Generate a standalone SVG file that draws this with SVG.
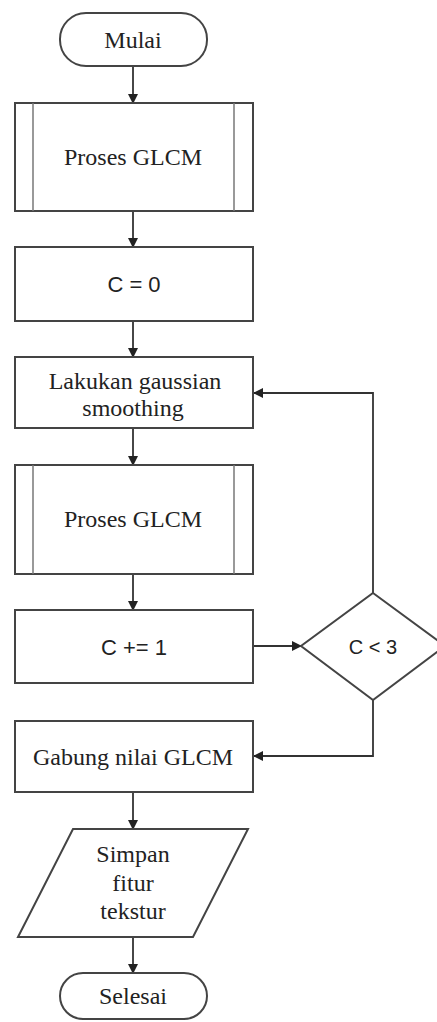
<svg xmlns="http://www.w3.org/2000/svg" width="437" height="1022" viewBox="0 0 437 1022">
<defs>
<marker id="ah" markerWidth="10" markerHeight="10" refX="9" refY="5" orient="auto" markerUnits="userSpaceOnUse">
<path d="M0,0 L10,5 L0,10 Z" fill="#222"/>
</marker>
<style>
.shape{fill:#fff;stroke:#444;stroke-width:2}
.inner{stroke:#777;stroke-width:1.5;fill:none}
.serif{font-family:"Liberation Serif","Times New Roman",serif;font-size:24px;fill:#222;text-anchor:middle}
.sans{font-family:"Liberation Sans",Arial,sans-serif;font-size:22px;fill:#222;text-anchor:middle}
.conn{fill:none;stroke:#333;stroke-width:1.8;marker-end:url(#ah)}
</style>
</defs>
<rect width="437" height="1022" fill="#fff"/>
<g id="connectors">
<path class="conn" d="M133,66 V103"/>
<path class="conn" d="M133,211 V247"/>
<path class="conn" d="M133,321 V357"/>
<path class="conn" d="M133,428 V465"/>
<path class="conn" d="M133,574 V610"/>
<path class="conn" d="M253,646 H301"/>
<path class="conn" d="M373,593 V393 H254"/>
<path class="conn" d="M373,700 V756 H254"/>
<path class="conn" d="M133,792 V829"/>
<path class="conn" d="M133,937 V973"/>
</g>
<g id="mulai">
<rect class="shape" x="60" y="13" width="147" height="53" rx="26" ry="26"/>
<text class="serif" x="133" y="48">Mulai</text>
</g>
<g id="proses1">
<rect class="shape" x="15" y="103" width="238" height="108"/>
<line class="inner" x1="33" y1="103" x2="33" y2="211"/>
<line class="inner" x1="234" y1="103" x2="234" y2="211"/>
<text class="serif" x="133" y="165">Proses GLCM</text>
</g>
<g id="c0">
<rect class="shape" x="15" y="247" width="238" height="74"/>
<text class="sans" x="134" y="292">C = 0</text>
</g>
<g id="smoothing">
<rect class="shape" x="15" y="357" width="238" height="71"/>
<text class="serif" x="135" y="389">Lakukan gaussian</text>
<text class="serif" x="133" y="416">smoothing</text>
</g>
<g id="proses2">
<rect class="shape" x="15" y="465" width="238" height="109"/>
<line class="inner" x1="33" y1="465" x2="33" y2="574"/>
<line class="inner" x1="234" y1="465" x2="234" y2="574"/>
<text class="serif" x="133" y="527">Proses GLCM</text>
</g>
<g id="cinc">
<rect class="shape" x="15" y="610" width="238" height="73"/>
<text class="sans" x="134" y="655">C += 1</text>
</g>
<g id="decision">
<polygon class="shape" points="373,593 445,646 373,700 301,646"/>
<text class="sans" x="373" y="654" style="font-size:20px">C &lt; 3</text>
</g>
<g id="gabung">
<rect class="shape" x="15" y="721" width="238" height="71"/>
<text class="serif" x="133" y="765">Gabung nilai GLCM</text>
</g>
<g id="simpan">
<polygon class="shape" points="73,829 248,829 193,937 18,937"/>
<text class="serif" x="133" y="862">Simpan</text>
<text class="serif" x="133" y="891">fitur</text>
<text class="serif" x="133" y="919">tekstur</text>
</g>
<g id="selesai">
<rect class="shape" x="60" y="973" width="147" height="46" rx="23" ry="23"/>
<text class="serif" x="133" y="1004">Selesai</text>
</g>
</svg>
